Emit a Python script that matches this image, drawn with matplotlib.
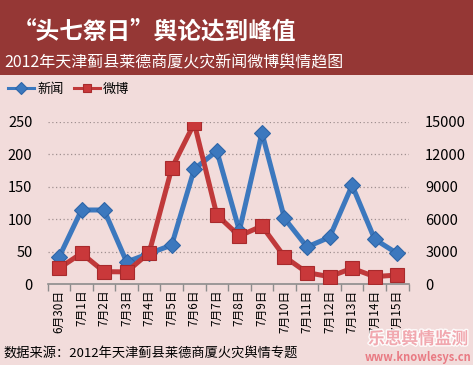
import matplotlib
matplotlib.use("Agg")
import matplotlib.pyplot as plt
from matplotlib.patches import Rectangle
import matplotlib.patheffects as pe

plt.rcParams['font.family'] = ['Noto Sans CJK SC', 'DejaVu Sans']

dates = ["6月30日", "7月1日", "7月2日", "7月3日", "7月4日", "7月5日", "7月6日", "7月7日",
         "7月8日", "7月9日", "7月10日", "7月11日", "7月12日", "7月13日", "7月14日", "7月15日"]
news = [41, 114, 114, 34, 47, 60, 177, 205, 82, 233, 101, 57, 72, 152, 69, 47]
weibo = [1450, 2840, 1140, 1120, 2890, 10690, 14850, 6380, 4440, 5360, 2520, 1050, 680, 1450, 680, 830]
left_ticks = [0, 50, 100, 150, 200, 250]
right_ticks = [0, 3000, 6000, 9000, 12000, 15000]

title = "“头七祭日”舆论达到峰值"
subtitle = "2012年天津蓟县莱德商厦火灾新闻微博舆情趋图"
source = "数据来源：2012年天津蓟县莱德商厦火灾舆情专题"

BG = '#F2DCDB'
BANNER = '#953735'
BLUE = '#3C78BE'
RED = '#C0393A'

W, H = 473, 365
fig = plt.figure(figsize=(W / 100, H / 100), dpi=100, facecolor=BG)

fig.patches.append(Rectangle((0, 1 - 75 / H), 1, 75 / H, transform=fig.transFigure,
                             facecolor=BANNER, edgecolor='none', zorder=0))
fig.text(13 / W, 1 - 32 / H, title, color='white', fontsize=17, fontweight='bold',
         ha='left', va='center')
fig.text(4 / W, 1 - 63 / H, subtitle, color='white', fontsize=11.5, ha='left', va='center')

ax = fig.add_axes([47.7 / W, (H - 284) / H, (408.5 - 47.7) / W, (284 - 121.7) / H])
ax.set_facecolor('none')
x = list(range(len(dates)))
ax.set_xlim(-0.5, len(dates) - 0.5)
ax.set_ylim(0, 250)
ax.set_yticks(left_ticks)
ax.set_yticklabels([str(v) for v in left_ticks])
for v in left_ticks[1:]:
    ax.axhline(v, color='#A09090', lw=0.9, ls=(0, (1, 2)), zorder=1)

ax2 = ax.twinx()
ax2.set_ylim(0, 15000)
ax2.set_yticks(right_ticks)
ax2.set_yticklabels([str(v) for v in right_ticks])

l1, = ax.plot(x, news, color=BLUE, lw=3.6, marker='D', ms=8, mfc=BLUE, mec='#2F66A8',
              mew=0.8, zorder=3, label='新闻')
l2, = ax2.plot(x, weibo, color=RED, lw=3.6, marker='s', ms=10, mfc='#C9383A', mec='#A82A2C',
               mew=0.8, zorder=4, label='微博')

for a in (ax, ax2):
    for s in a.spines.values():
        s.set_visible(False)
    a.tick_params(axis='y', length=0, labelsize=10.5, colors='black')
ax.tick_params(axis='y', pad=11)
ax2.tick_params(axis='y', pad=12)

ax.spines['bottom'].set_visible(True)
ax.spines['bottom'].set_color('#8C8C8C')
ax.spines['bottom'].set_linewidth(1.2)
ax.set_xticks([i - 0.5 for i in range(len(dates) + 1)], minor=False)
ax.set_xticklabels([''] * (len(dates) + 1))
ax.tick_params(axis='x', which='major', length=5, color='#8C8C8C', width=1)
ax.set_xticks(x, minor=True)
ax.set_xticklabels(dates, minor=True, rotation=90, fontsize=8.5, va='top', ha='center')
ax.tick_params(axis='x', which='minor', length=0, pad=4)

leg = fig.legend(handles=[l1, l2], loc='center left', bbox_to_anchor=(0, 1 - 89 / H),
                 ncol=2, frameon=False, fontsize=9.5, handlelength=2.0, columnspacing=0.8,
                 handletextpad=0.2, borderaxespad=0.2)
for h in leg.legend_handles:
    h.set_linewidth(2.2)
    h.set_markersize(6)

fig.text(3 / W, 1 - 353 / H, source, fontsize=9.5, ha='left', va='center', color='black')

fig.text(418 / W, 1 - 339 / H, "乐思舆情监测", fontsize=12, fontweight='bold', ha='center',
         va='center', color='#F0A0A8', alpha=0.9,
         path_effects=[pe.withStroke(linewidth=2, foreground='white')])
fig.text(418 / W, 1 - 357 / H, "www.knowlesys.cn", fontsize=8, fontweight='bold', ha='center',
         va='center', color='#E8707A', alpha=0.9)

fig.savefig('out.png', dpi=100, facecolor=BG)
